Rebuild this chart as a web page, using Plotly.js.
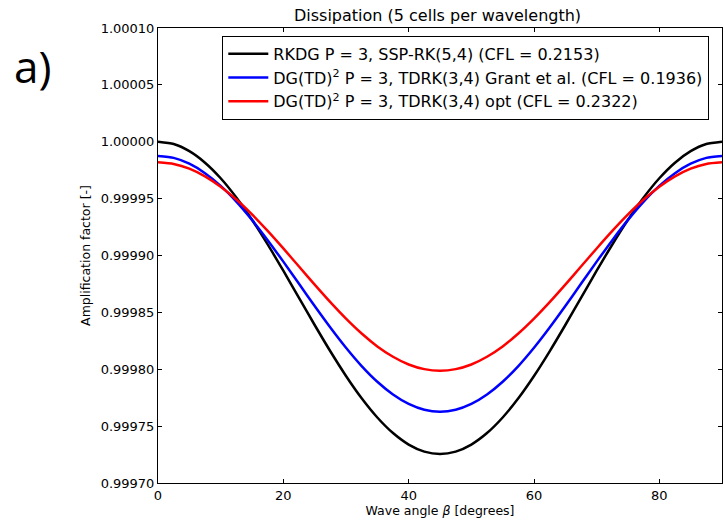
<!DOCTYPE html>
<html>
<head>
<meta charset="utf-8">
<script src="https://cdn.plot.ly/plotly-3.0.1.min.js"></script>
<style>html,body{margin:0;padding:0;background:#fff;}#chart{width:725px;height:526px;}</style>
</head>
<body>
<div id="chart"></div>
<script>
// Wave angle beta [degrees]
const beta = [0, 2.5, 5, 7.5, 10, 12.5, 15, 17.5, 20, 22.5, 25, 27.5, 30, 32.5, 35, 37.5, 40, 42.5, 45,
              47.5, 50, 52.5, 55, 57.5, 60, 62.5, 65, 67.5, 70, 72.5, 75, 77.5, 80, 82.5, 85, 87.5, 90];
// RKDG P = 3, SSP-RK(5,4)
const rkdg = [1.0000000, 0.9999980, 0.9999917, 0.9999816, 0.9999679, 0.9999510, 0.9999314, 0.9999097, 0.9998866, 0.9998628,
              0.9998389, 0.9998158, 0.9997941, 0.9997745, 0.9997576, 0.9997439, 0.9997338, 0.9997276, 0.9997255,
              0.9997276, 0.9997338, 0.9997439, 0.9997576, 0.9997745, 0.9997941, 0.9998158, 0.9998389, 0.9998628,
              0.9998866, 0.9999097, 0.9999314, 0.9999510, 0.9999679, 0.9999816, 0.9999917, 0.9999980, 1.0000000];
// DG(TD)^2 P = 3, TDRK(3,4) Grant et al.
const grant = [0.9999875, 0.9999858, 0.9999807, 0.9999724, 0.9999612, 0.9999474, 0.9999313, 0.9999135, 0.9998946, 0.9998751,
               0.9998556, 0.9998367, 0.9998189, 0.9998028, 0.9997890, 0.9997778, 0.9997695, 0.9997644, 0.9997627,
               0.9997644, 0.9997695, 0.9997778, 0.9997890, 0.9998028, 0.9998189, 0.9998367, 0.9998556, 0.9998751,
               0.9998946, 0.9999135, 0.9999313, 0.9999474, 0.9999612, 0.9999724, 0.9999807, 0.9999858, 0.9999875];
// DG(TD)^2 P = 3, TDRK(3,4) opt
const opt = [0.9999819, 0.9999805, 0.9999764, 0.9999696, 0.9999605, 0.9999492, 0.9999361, 0.9999216, 0.9999062, 0.9998903,
             0.9998744, 0.9998590, 0.9998445, 0.9998314, 0.9998201, 0.9998110, 0.9998042, 0.9998001, 0.9997987,
             0.9998001, 0.9998042, 0.9998110, 0.9998201, 0.9998314, 0.9998445, 0.9998590, 0.9998744, 0.9998903,
             0.9999062, 0.9999216, 0.9999361, 0.9999492, 0.9999605, 0.9999696, 0.9999764, 0.9999805, 0.9999819];
const names = [
  'RKDG P = 3, SSP-RK(5,4) (CFL = 0.2153)',
  'DG(TD)<sup>2</sup> P = 3, TDRK(3,4) Grant et al. (CFL = 0.1936)',
  'DG(TD)<sup>2</sup> P = 3, TDRK(3,4) opt (CFL = 0.2322)'
];
const colors = ['#000000', '#0000ff', '#ff0000'];
const series = [rkdg, grant, opt];
const xTicks = [0, 20, 40, 60, 80];
const yTicks = [0.99970, 0.99975, 0.99980, 0.99985, 0.99990, 0.99995, 1.00000, 1.00005, 1.00010];

const traces = series.map((s, i) => ({
  x: beta, y: s, type: 'scatter', mode: 'lines', name: names[i],
  line: {color: colors[i], width: 2.5, shape: 'spline', smoothing: 0.6}
}));

const font = {family: 'DejaVu Sans, sans-serif', color: '#000'};
const layout = {
  width: 725, height: 526,
  margin: {l: 158, r: 3, t: 28, b: 43},
  paper_bgcolor: '#fff', plot_bgcolor: '#fff',
  font: Object.assign({size: 13}, font),
  title: {text: 'Dissipation (5 cells per wavelength)', font: Object.assign({size: 16}, font),
          x: 0.6035, xanchor: 'center', y: 0.971, yanchor: 'middle'},
  showlegend: true,
  legend: {x: 0.114, y: 0.983, xanchor: 'left', yanchor: 'top', bordercolor: '#000', borderwidth: 1,
           bgcolor: '#fff', font: Object.assign({size: 16}, font), tracegroupgap: 0, itemwidth: 40},
  xaxis: {range: [0, 90], tickvals: xTicks, ticktext: xTicks.map(String), ticks: 'inside', ticklen: 4,
          tickcolor: '#000', showline: true, linecolor: '#000', linewidth: 1, mirror: 'allticks',
          showgrid: false, zeroline: false,
          tickfont: Object.assign({size: 13}, font),
          title: {text: 'Wave angle <i>β</i> [degrees]', font: Object.assign({size: 12.5}, font), standoff: 3}},
  yaxis: {range: [0.9997, 1.0001], tickvals: yTicks, ticktext: yTicks.map(v => v.toFixed(5)), ticks: 'inside', ticklen: 4,
          tickcolor: '#000', showline: true, linecolor: '#000', linewidth: 1, mirror: 'allticks',
          showgrid: false, zeroline: false,
          tickfont: Object.assign({size: 13}, font),
          title: {text: 'Amplification factor [-]', font: Object.assign({size: 12.5}, font), standoff: 7}},
  annotations: [{text: 'a)', xref: 'paper', yref: 'paper', x: -0.258, y: 0.916, xanchor: 'left', yanchor: 'middle',
                 showarrow: false, font: {family: 'Open Sans, sans-serif', size: 44, color: '#000'}}]
};
Plotly.newPlot('chart', traces, layout, {displayModeBar: false, staticPlot: true});
</script>
</body>
</html>
